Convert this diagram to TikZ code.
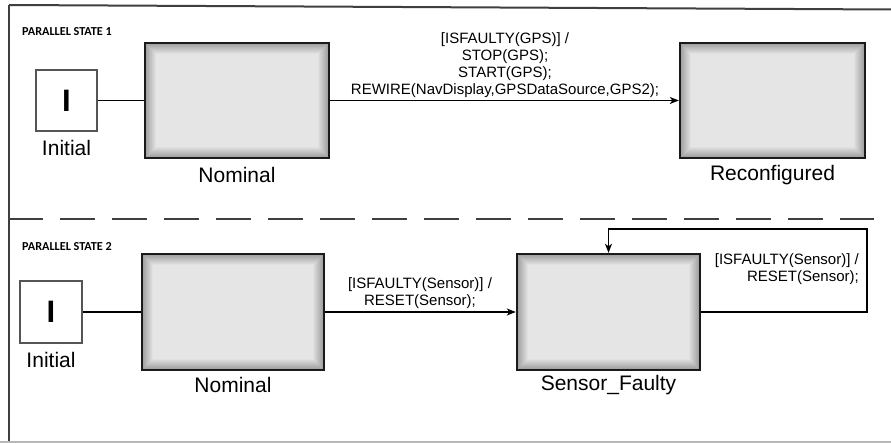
\documentclass[tikz,border=0pt]{standalone}
\usepackage{fontspec}
\setmainfont{Liberation Sans}
\newfontfamily\carlito{Carlito}
\usetikzlibrary{arrows.meta}
\definecolor{framegray}{HTML}{3F3F3F}
\definecolor{bottomgray}{HTML}{B8B8B8}
\definecolor{boxborder}{HTML}{1A1A1A}
\definecolor{initborder}{HTML}{555555}
\begin{document}
\begin{tikzpicture}[x=1pt,y=-1pt,
  statebox/.style={draw=boxborder, line width=2.4pt, inner sep=0pt,
    fill=white!62!black,
    path picture={
      \foreach \i in {0,...,11}{
        \pgfmathtruncatemacro\lev{62+2.6*\i}
        \fill[white!\lev!black]
          ([shift={(\i pt,\i pt)}]path picture bounding box.south west)
          rectangle ([shift={(-\i pt,-\i pt)}]path picture bounding box.north east);
      }
    }},
  initbox/.style={draw=initborder, line width=1.3pt, fill=white, inner sep=0pt,
    minimum width=61pt, minimum height=61pt,
    font=\fontsize{31}{31}\selectfont\bfseries},
  namelbl/.style={font=\fontsize{21}{21}\selectfont, inner sep=0pt},
  trlbl/.style={font=\fontsize{15}{17}\selectfont, inner sep=0pt},
  pslbl/.style={font=\carlito\bfseries\fontsize{12.2}{12.2}\selectfont, inner sep=0pt, anchor=west},
  tr/.style={line width=1.3pt, black},
  tra/.style={tr, -{Stealth[length=9pt,width=7pt,inset=2.5pt]}}
]
\useasboundingbox[fill=white] (0,0) rectangle (891,443);

% frame
\coordinate (tl) at (9,5);
\coordinate (tr) at (891,9.5);
\coordinate (bl) at (9,443);
\coordinate (bl2) at (0,442);
\coordinate (br2) at (891,442);
\draw[framegray, line width=2pt] (tl) -- (tr);
\draw[framegray, line width=2.4pt] (tl) -- (bl);
\draw[bottomgray, line width=1.5pt] (bl2) -- (br2);

% dashed separator
\coordinate (dl) at (8,219);
\coordinate (dr) at (874,219);
\draw[framegray, line width=2pt, dash pattern=on 34.5pt off 17.5pt] (dl) -- (dr);

% parallel state 1
\node[pslbl] (ps1) at (22,32) {PARALLEL STATE 1};
\node[initbox] (init1) at (66.5,100.5) {I};
\node[namelbl] (init1l) at (66.5,148) {Initial};
\node[statebox, minimum width=184pt, minimum height=115pt] (nom1) at (237,100.5) {};
\node[namelbl] (nom1l) at (237,175) {Nominal};
\node[statebox, minimum width=185pt, minimum height=115pt] (rec) at (772.5,100.5) {};
\node[namelbl] (recl) at (772.5,175) {Reconfigured};
\draw[tr] (init1) -- (nom1);
\draw[tra] (nom1) -- (rec);
\node[trlbl, align=center] (t1l) at (505,65) {[ISFAULTY(GPS)] /\\STOP(GPS);\\START(GPS);\\REWIRE(NavDisplay,GPSDataSource,GPS2);};

% parallel state 2
\node[pslbl] (ps2) at (22,247) {PARALLEL STATE 2};
\node[initbox, minimum width=62pt, minimum height=62pt] (init2) at (51,312) {I};
\node[namelbl] (init2l) at (51,360) {Initial};
\node[statebox, minimum width=182pt, minimum height=116pt] (nom2) at (233,312) {};
\node[namelbl] (nom2l) at (233,385) {Nominal};
\node[statebox, minimum width=183pt, minimum height=116pt] (sf) at (608.5,312) {};
\node[namelbl] (sfl) at (608.5,385) {Sensor\_Faulty};
\draw[tr] (init2) -- (nom2);
\draw[tra] (nom2) -- (sf);
\node[trlbl, align=center] (t2l) at (420,293.5) {[ISFAULTY(Sensor)] /\\RESET(Sensor);};

% self loop
\coordinate (loopR) at (867,229);
\draw[tra] (sf.east) -- (sf.east -| loopR) -- (loopR) -- (loopR -| sf.north) -- (sf.north);
\node[trlbl, align=right, anchor=east] (t3l) at (859,269.5) {[ISFAULTY(Sensor)] /\\RESET(Sensor);};
\end{tikzpicture}
\end{document}
